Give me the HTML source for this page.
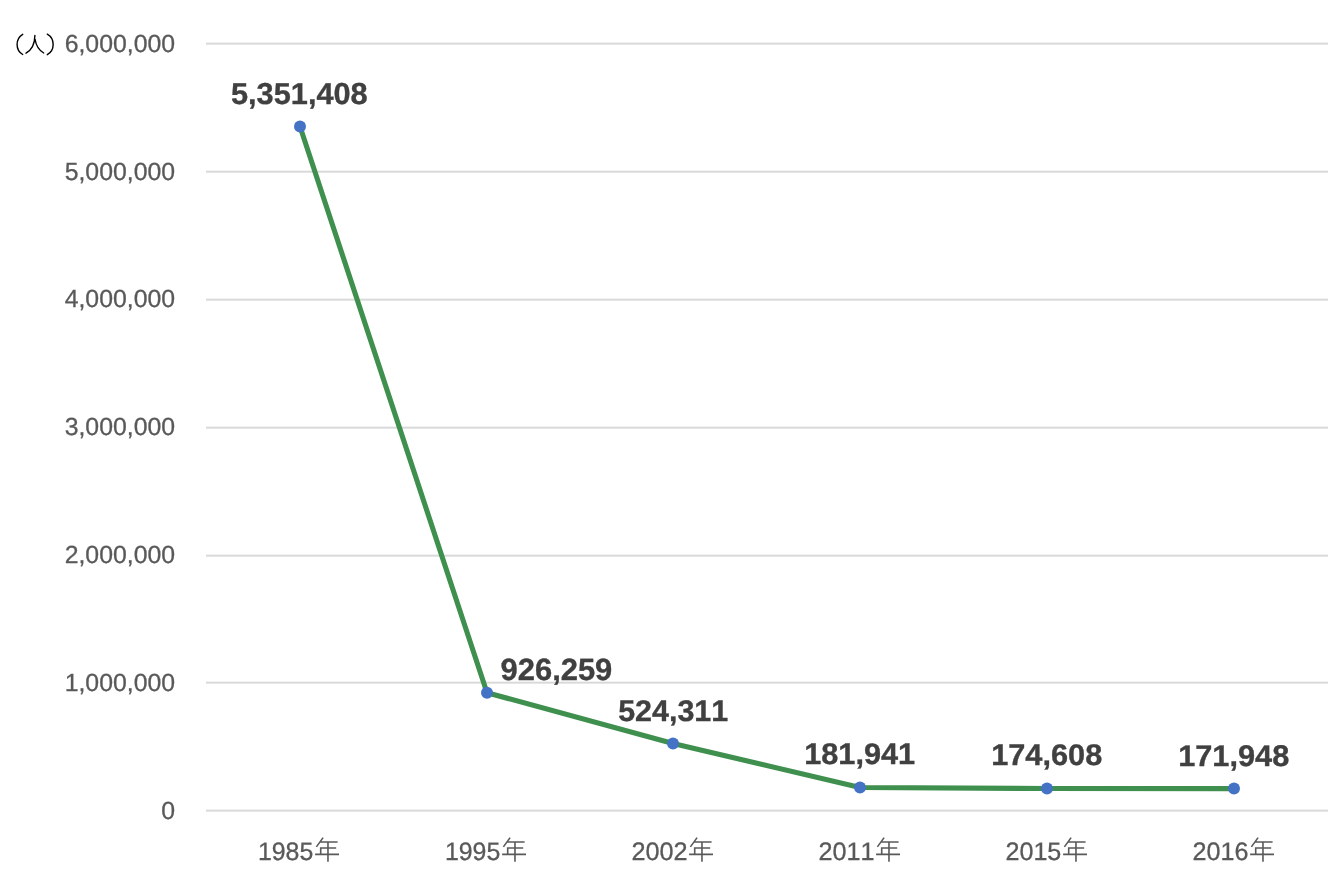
<!DOCTYPE html>
<html><head><meta charset="utf-8"><style>
html,body{margin:0;padding:0;background:#fff;width:1341px;height:882px;overflow:hidden}
svg{display:block;will-change:transform}
text{font-family:"Liberation Sans",sans-serif;text-rendering:geometricPrecision;font-kerning:none;font-feature-settings:"kern" 0}
</style></head><body>
<svg width="1341" height="882" viewBox="0 0 1341 882">
<rect width="1341" height="882" fill="#fff"/>
<rect x="206" y="42.64" width="1122" height="2" fill="#d9d9d9"/>
<rect x="206" y="170.68" width="1122" height="2" fill="#d9d9d9"/>
<rect x="206" y="298.66" width="1122" height="2" fill="#d9d9d9"/>
<rect x="206" y="426.66" width="1122" height="2" fill="#d9d9d9"/>
<rect x="206" y="554.66" width="1122" height="2" fill="#d9d9d9"/>
<rect x="206" y="681.66" width="1122" height="2" fill="#d9d9d9"/>
<rect x="206" y="809.64" width="1122" height="2" fill="#d9d9d9"/>
<polyline points="300.00,126.50 487.00,692.70 673.00,743.50 860.00,787.50 1047.00,788.50 1234.00,788.60" fill="none" stroke="#3f904e" stroke-width="5.1" stroke-linejoin="round" stroke-linecap="round"/>
<circle cx="300.00" cy="126.50" r="6" fill="#4472c4"/>
<circle cx="487.00" cy="692.70" r="6" fill="#4472c4"/>
<circle cx="673.00" cy="743.50" r="6" fill="#4472c4"/>
<circle cx="860.00" cy="787.50" r="6" fill="#4472c4"/>
<circle cx="1047.00" cy="788.50" r="6" fill="#4472c4"/>
<circle cx="1234.00" cy="788.60" r="6" fill="#4472c4"/>
<text transform="translate(161.18,818.88) scale(1.0010,1)" font-size="24.80" font-weight="normal" fill="#595959" stroke="#595959" stroke-width="0.3">0</text>
<text transform="translate(64.64,690.98) scale(1.0010,1)" font-size="24.80" font-weight="normal" fill="#595959" stroke="#595959" stroke-width="0.3">1,000,000</text>
<text transform="translate(64.64,562.78) scale(1.0010,1)" font-size="24.80" font-weight="normal" fill="#595959" stroke="#595959" stroke-width="0.3">2,000,000</text>
<text transform="translate(64.64,434.78) scale(1.0010,1)" font-size="24.80" font-weight="normal" fill="#595959" stroke="#595959" stroke-width="0.3">3,000,000</text>
<text transform="translate(64.64,306.78) scale(1.0010,1)" font-size="24.80" font-weight="normal" fill="#595959" stroke="#595959" stroke-width="0.3">4,000,000</text>
<text transform="translate(64.64,179.78) scale(1.0010,1)" font-size="24.80" font-weight="normal" fill="#595959" stroke="#595959" stroke-width="0.3">5,000,000</text>
<text transform="translate(64.64,51.78) scale(1.0010,1)" font-size="24.80" font-weight="normal" fill="#595959" stroke="#595959" stroke-width="0.3">6,000,000</text>
<text transform="translate(230.95,104.00) scale(1.0147,1)" font-size="30.30" font-weight="bold" fill="#404040" stroke="#404040" stroke-width="0.35">5,351,408</text>
<text transform="translate(500.53,680.00) scale(1.0047,1)" font-size="30.79" font-weight="bold" fill="#404040" stroke="#404040" stroke-width="0.35">926,259</text>
<text transform="translate(618.16,720.70) scale(1.0240,1)" font-size="29.74" font-weight="bold" fill="#404040" stroke="#404040" stroke-width="0.35">524,311</text>
<text transform="translate(804.17,763.70) scale(1.0303,1)" font-size="29.80" font-weight="bold" fill="#404040" stroke="#404040" stroke-width="0.35">181,941</text>
<text transform="translate(991.16,764.70) scale(1.0311,1)" font-size="29.80" font-weight="bold" fill="#404040" stroke="#404040" stroke-width="0.35">174,608</text>
<text transform="translate(1178.16,765.80) scale(1.0272,1)" font-size="29.94" font-weight="bold" fill="#404040" stroke="#404040" stroke-width="0.35">171,948</text>
<text transform="translate(257.90,860.00) scale(0.9858,1)" font-size="25.28" font-weight="normal" fill="#595959" stroke="#595959" stroke-width="0.3">1985</text>
<path d="M323.10,837.6 L316.40,846.9 M320.10,842.0 H337.60 M336.20,847.95 H320.70 V854.4 M315.10,854.4 H339.00 M327.97,842.0 V861.8" fill="none" stroke="#595959" stroke-width="1.6"/>
<text transform="translate(444.90,860.00) scale(0.9858,1)" font-size="25.28" font-weight="normal" fill="#595959" stroke="#595959" stroke-width="0.3">1995</text>
<path d="M510.10,837.6 L503.40,846.9 M507.10,842.0 H524.60 M523.20,847.95 H507.70 V854.4 M502.10,854.4 H526.00 M514.97,842.0 V861.8" fill="none" stroke="#595959" stroke-width="1.6"/>
<text transform="translate(631.43,860.00) scale(0.9981,1)" font-size="25.28" font-weight="normal" fill="#595959" stroke="#595959" stroke-width="0.3">2002</text>
<path d="M697.10,837.6 L690.40,846.9 M694.10,842.0 H711.60 M710.20,847.95 H694.70 V854.4 M689.10,854.4 H713.00 M701.97,842.0 V861.8" fill="none" stroke="#595959" stroke-width="1.6"/>
<text transform="translate(818.43,860.00) scale(0.9974,1)" font-size="25.28" font-weight="normal" fill="#595959" stroke="#595959" stroke-width="0.3">2011</text>
<path d="M884.10,837.6 L877.40,846.9 M881.10,842.0 H898.60 M897.20,847.95 H881.70 V854.4 M876.10,854.4 H900.00 M888.97,842.0 V861.8" fill="none" stroke="#595959" stroke-width="1.6"/>
<text transform="translate(1005.44,860.00) scale(0.9943,1)" font-size="25.28" font-weight="normal" fill="#595959" stroke="#595959" stroke-width="0.3">2015</text>
<path d="M1071.10,837.6 L1064.40,846.9 M1068.10,842.0 H1085.60 M1084.20,847.95 H1068.70 V854.4 M1063.10,854.4 H1087.00 M1075.97,842.0 V861.8" fill="none" stroke="#595959" stroke-width="1.6"/>
<text transform="translate(1192.43,860.00) scale(0.9952,1)" font-size="25.28" font-weight="normal" fill="#595959" stroke="#595959" stroke-width="0.3">2016</text>
<path d="M1258.10,837.6 L1251.40,846.9 M1255.10,842.0 H1272.60 M1271.20,847.95 H1255.70 V854.4 M1250.10,854.4 H1274.00 M1262.97,842.0 V861.8" fill="none" stroke="#595959" stroke-width="1.6"/>
<g fill="none" stroke="#000" stroke-width="1.4" stroke-linecap="round"><path d="M22.7,34.3 A11.9,11.9 0 0 0 22.7,54.5"/><path d="M47.3,34.2 A11.9,11.9 0 0 1 47.3,54.7"/><path d="M34.9,35.5 C34.8,42 33.5,49 26,53.2"/><path d="M35.1,39.5 C36,45 38.5,50 43.7,53"/></g>
</svg>
</body></html>
